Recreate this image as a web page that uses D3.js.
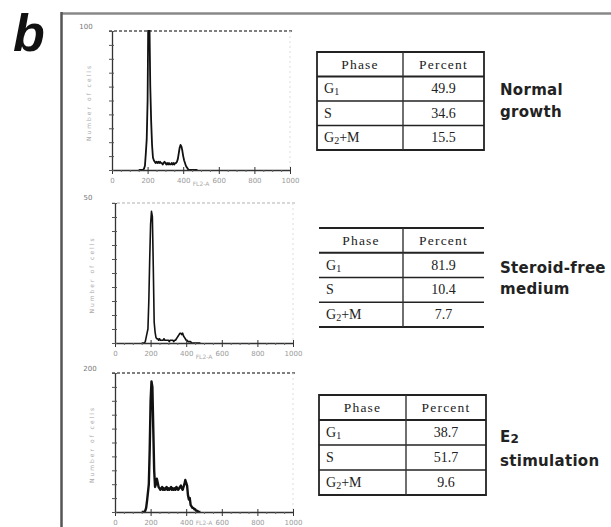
<!DOCTYPE html>
<html><head><meta charset="utf-8">
<script src="https://cdn.jsdelivr.net/npm/d3@7/dist/d3.min.js"></script>
<style>html,body{margin:0;padding:0;background:#fff}svg{display:block}</style>
</head><body><svg id="c" width="611" height="527"></svg>
<script>
// ---------- DATA ----------
const channels = [150,155,160,165,170,175,180,185,190,195,
  200,205,210,215,220,225,230,235,240,245,
  250,255,260,265,270,275,280,285,290,295,
  300,305,310,315,320,325,330,335,340,345,
  350,355,360,365,370,375,380,385,390,395,
  400,405,410,415,420,425,430,435,440,445,
  450,455,460,465,470,475,480];
const countsNormal = [0,0,0,0,0,0,1,3,12,22,
  50,130,110,60,35,18,9,7,6,5,
  6,5,6,5,6,5,5,4,5,6,
  5,4,5,4,5,4,4,5,4,5,
  4,5,5,6,8,12,16,18,17,14,
  10,7,5,3,2,1,0,0,0,0,
  0,0,0,0,0,0,0];
const countsSteroidFree = [0,0,0,0,1,4,7,10,30,60,
  85,94,90,55,15,8,4,3,3,2,
  3,2,2,2,2,3,2,2,2,2,
  2,1,2,2,2,2,1,2,2,3,
  4,5,6,7,7,6,7,5,4,3,
  2,2,1,1,1,1,0,0,0,0,
  0,0,0,0,0,0,0];
const countsE2 = [0,0,0,0,1,3,8,14,20,45,
  80,94,90,60,30,18,20,24,21,18,
  17,16,17,18,16,17,16,17,18,16,
  17,16,17,18,16,17,16,17,16,18,
  17,16,17,18,19,17,16,18,20,23,
  21,19,12,9,10,5,4,3,3,2,
  2,1,1,0.5,0,0,0];
const xTickValues = [0,200,400,600,800,1000];
const xTickLabels = ["0","200","400","600","800","1000"];
const xMinorTicks = [50,100,150,250,300,350,450,500,550,650,700,750,850,900,950];
const yMinorTicks = [0,10,20,30,40,50,60,70,80,90,100];
const yTopLabels = ["100","50","200"];
const xAxisTitle = "FL2-A";
const yAxisTitle = "Number of cells";
const tableHeader = ["Phase","Percent"];
const phases = ["G1","S","G2+M"];
const pctNormal = [49.9,34.6,15.5];
const pctSteroidFree = [81.9,10.4,7.7];
const pctE2 = [38.7,51.7,9.6];
const conditionLabels = [["Normal","growth"],["Steroid-free","medium"],["E2","stimulation"]];
const panelLetter = "b";

// ---------- LAYOUT ----------
const svg = d3.select("#c");
svg.append("rect").attr("width",611).attr("height",527).attr("fill","#fff");

// outer frame
svg.append("line").attr("x1",61).attr("x2",611).attr("y1",13.5).attr("y2",13.5)
  .attr("stroke","#888").attr("stroke-width",2.5);
svg.append("line").attr("x1",61.5).attr("x2",61.5).attr("y1",12).attr("y2",527)
  .attr("stroke","#555").attr("stroke-width",2.5);

svg.append("text").attr("x",13).attr("y",51).text(panelLetter)
  .attr("font-family","Liberation Sans, Arial, sans-serif").attr("font-weight","bold")
  .attr("font-style","italic").attr("font-size",52).attr("fill","#111");

const panels = [
  {counts:countsNormal, x0:112, x1:290, yTop:31, yBot:170, lw:1.8, top:"#555", tl:{x:86,y:29}},
  {counts:countsSteroidFree, x0:115, x1:293, yTop:203, yBot:343, lw:1.6, top:"#ccc", tl:{x:88,y:200}},
  {counts:countsE2, x0:115, x1:293, yTop:373, yBot:512, lw:2.4, top:"#555", tl:{x:90,y:371}}
];

panels.forEach((p,i)=>{
  const x = d3.scaleLinear().domain([0,1000]).range([p.x0,p.x1]);
  const y = d3.scaleLinear().domain([0,100]).range([p.yBot,p.yTop]);
  const g = svg.append("g");
  const clipId = "clip"+i;
  svg.append("clipPath").attr("id",clipId).append("rect")
    .attr("x",p.x0).attr("y",p.yTop-1).attr("width",p.x1-p.x0).attr("height",p.yBot-p.yTop+1);

  // top dashed border & right dotted border
  g.append("line").attr("x1",p.x0-3).attr("x2",p.x1+3).attr("y1",p.yTop).attr("y2",p.yTop)
    .attr("stroke",p.top).attr("stroke-width",1.3).attr("stroke-dasharray","3,2");
  g.append("line").attr("x1",p.x1).attr("x2",p.x1).attr("y1",p.yTop).attr("y2",p.yBot)
    .attr("stroke","#ddd").attr("stroke-width",1).attr("stroke-dasharray","2,3");

  // histogram
  const line = d3.line().x((d,j)=>x(channels[j])).y(d=>y(d));
  g.append("path").datum(p.counts).attr("d",line).attr("fill","none")
    .attr("stroke","#111").attr("stroke-width",p.lw).attr("stroke-linejoin","round")
    .attr("clip-path",`url(#${clipId})`);

  // x axis
  const xa = g.append("g").attr("transform",`translate(0,${p.yBot})`)
    .call(d3.axisBottom(x).tickValues(xTickValues).tickSizeInner(4).tickSizeOuter(0)
      .tickFormat((d,j)=>xTickLabels[j]));
  xa.select(".domain").attr("stroke","#333").attr("stroke-width",1.3);
  xa.selectAll(".tick line").attr("stroke","#333").attr("y1",-3);
  xa.selectAll("text").attr("font-size",7).attr("fill","#999")
    .attr("font-family","DejaVu Sans, sans-serif").attr("dy","0.9em");
  const xm = g.append("g").attr("transform",`translate(0,${p.yBot})`)
    .call(d3.axisBottom(x).tickValues(xMinorTicks).tickSize(2).tickFormat(""));
  xm.select(".domain").remove();
  xm.selectAll(".tick line").attr("stroke","#666");
  g.append("text").attr("x",x(500)).attr("y",p.yBot+(i===2?13:16)).attr("text-anchor","middle")
    .attr("font-size",6).attr("fill","#aaa").attr("font-family","DejaVu Sans, sans-serif").text(xAxisTitle);

  // y axis
  const ya = g.append("g").attr("transform",`translate(${p.x0},0)`)
    .call(d3.axisLeft(y).tickValues(yMinorTicks).tickSizeInner(3).tickSizeOuter(0).tickFormat(""));
  ya.select(".domain").attr("stroke","#333").attr("stroke-width",1.3);
  ya.selectAll(".tick line").attr("stroke","#555").attr("x1",2);
  g.append("text").attr("x",p.tl.x).attr("y",p.tl.y).attr("text-anchor","middle")
    .attr("font-size",7).attr("fill","#777").attr("font-family","DejaVu Sans, sans-serif").text(yTopLabels[i]);
  g.append("text").attr("transform",`translate(${p.x0-21},${(p.yTop+p.yBot)/2+2}) rotate(-90)`)
    .attr("text-anchor","middle").attr("font-size",6).attr("letter-spacing",2)
    .attr("fill","#aaa").attr("font-family","DejaVu Sans, sans-serif").text(yAxisTitle);
});

// ---------- TABLES ----------
const tables = [
  {pct:pctNormal, left:317, right:484, top:52, bottom:150, div:403, full:true, lab:{y1:95,y2:117}},
  {pct:pctSteroidFree, left:319, right:484, top:228, bottom:327, div:403, full:false, lab:{y1:273,y2:294}},
  {pct:pctE2, left:319, right:486, top:395, bottom:495, div:406, full:true, lab:{y1:442,y2:466}}
];
const serif = "Liberation Serif, Times New Roman, serif";
function phaseText(sel, ph){
  const m = ph.match(/^G(\d)(.*)$/);
  if(m){
    sel.append("tspan").text("G");
    sel.append("tspan").text(m[1]).attr("font-size",10).attr("dy",2);
    if(m[2]) sel.append("tspan").text(m[2]).attr("dy",-2);
  } else sel.text(ph);
}
tables.forEach((t,i)=>{
  const g = svg.append("g");
  const rows = d3.scaleBand().domain(["__header", ...phases]).range([t.top,t.bottom]);
  const lines = [t.top, ...phases.map(p=>rows(p)), t.bottom];
  lines.forEach((ly,k)=>{
    g.append("line").attr("x1",t.left).attr("x2",t.right).attr("y1",ly).attr("y2",ly)
      .attr("stroke","#222").attr("stroke-width",(k===0||k===lines.length-1||k===1)?1.8:1.4);
  });
  g.append("line").attr("x1",t.div).attr("x2",t.div).attr("y1",t.top).attr("y2",t.bottom)
    .attr("stroke","#333").attr("stroke-width",1.4);
  if(t.full){
    [t.left,t.right].forEach(lx=>g.append("line").attr("x1",lx).attr("x2",lx)
      .attr("y1",t.top-0.9).attr("y2",t.bottom+0.9).attr("stroke","#222").attr("stroke-width",1.8));
  }
  const c1 = (t.left+t.div)/2, c2 = (t.div+t.right)/2;
  const hy = rows("__header")+rows.bandwidth()/2+4.5;
  g.append("text").attr("x",c1).attr("y",hy).attr("text-anchor","middle").text(tableHeader[0])
    .attr("font-family",serif).attr("font-size",13.5).attr("letter-spacing",1.2).attr("fill","#222");
  g.append("text").attr("x",c2).attr("y",hy).attr("text-anchor","middle").text(tableHeader[1])
    .attr("font-family",serif).attr("font-size",13.5).attr("letter-spacing",1.2).attr("fill","#222");
  phases.forEach((ph,j)=>{
    const ry = rows(ph)+rows.bandwidth()/2+4.5;
    const tx = g.append("text").attr("x",t.left+7).attr("y",ry)
      .attr("font-family",serif).attr("font-size",14).attr("fill","#222");
    phaseText(tx, ph);
    g.append("text").attr("x",c2).attr("y",ry).attr("text-anchor","middle").text(t.pct[j].toFixed(1))
      .attr("font-family",serif).attr("font-size",14).attr("fill","#222");
  });
  // condition label
  const lab = conditionLabels[i];
  const l1 = g.append("text").attr("x",500).attr("y",t.lab.y1)
    .attr("font-family","DejaVu Sans, sans-serif").attr("font-weight","bold").attr("font-size",15)
    .attr("fill","#222").attr("letter-spacing",0.3);
  if(lab[0]==="E2"){
    l1.append("tspan").text("E");
    l1.append("tspan").text("2").attr("font-size",12).attr("dy",1);
  } else l1.text(lab[0]);
  g.append("text").attr("x",500).attr("y",t.lab.y2).text(lab[1])
    .attr("font-family","DejaVu Sans, sans-serif").attr("font-weight","bold").attr("font-size",15)
    .attr("fill","#222").attr("letter-spacing",0.3);
});
</script></body></html>
